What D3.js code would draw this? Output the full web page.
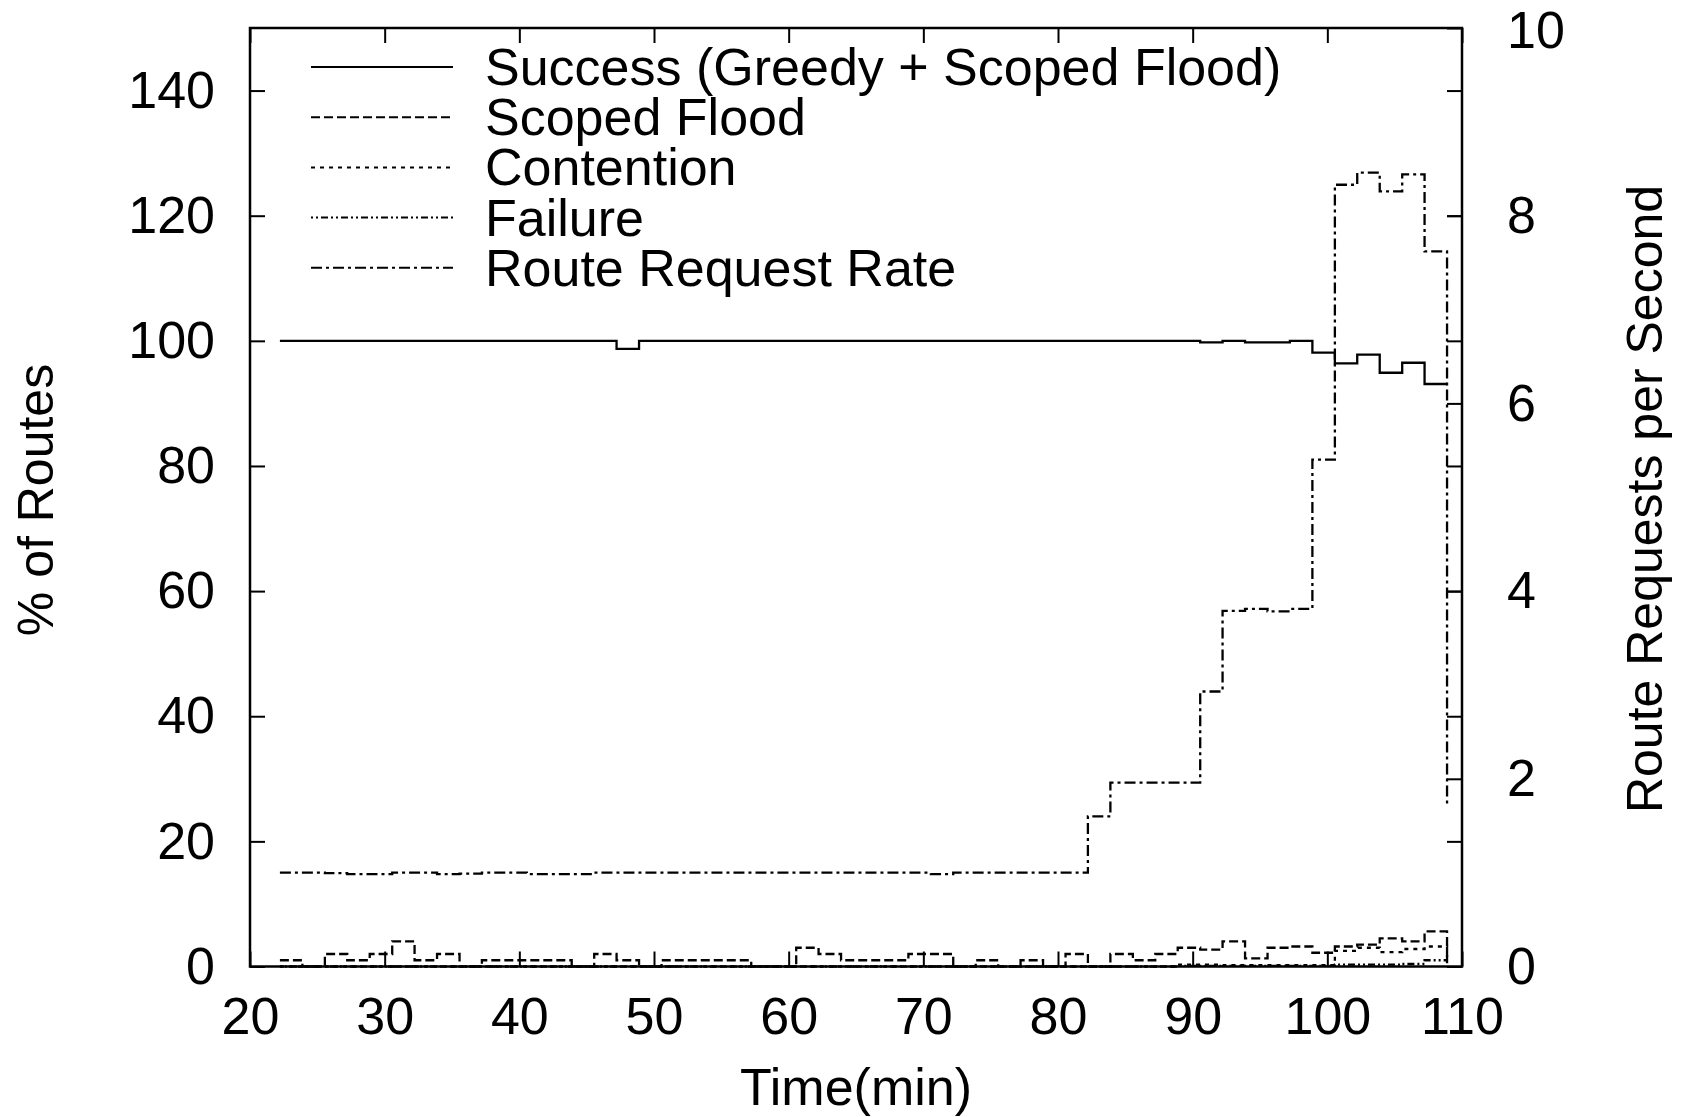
<!DOCTYPE html>
<html><head><meta charset="utf-8">
<script src="https://cdn.jsdelivr.net/npm/d3@7"></script>
<style>
body{margin:0;background:#fff}
svg{display:block}
text{font-family:"Liberation Sans",Arial,Helvetica,sans-serif;fill:#000}
</style>
</head><body><svg id="c" width="1688" height="1117"></svg>
<script>
// bin start times (min)
const times = [22.22,23.89,25.56,27.22,28.89,30.56,32.22,33.89,35.56,37.22,38.89,40.56,42.22,43.89,45.56,47.22,48.89,50.56,52.22,53.89,55.56,57.22,58.89,60.56,62.22,63.89,65.56,67.22,68.89,70.56,72.22,73.89,75.56,77.22,78.89,80.56,82.22,83.89,85.56,87.22,88.89,90.56,92.22,93.89,95.56,97.22,98.89,100.56,102.22,103.89,105.56,107.22,108.89];
// % of routes
const success = [100,100,100,100,100,100,100,100,100,100,100,100,100,100,100,98.7,100,100,100,100,100,100,100,100,100,100,100,100,100,100,100,100,100,100,100,100,100,100,100,100,100,99.75,100,99.75,99.75,100,98.1,96.4,97.8,94.9,96.5,93.1,93.1];
const scopedFlood = [1,0,2,1,2,4,1,2,0,1,1,1,1,0,2,1,0,1,1,1,1,0,0,3,2,1,1,1,2,2,0,1,0,1,0,2,0,2,1,2,3,2.7,4,1.3,3,3.2,2.2,3.2,3.5,4.5,4,5.6,1];
const contention = [0,0,0,0,0,0,0,0,0,0,0,0,0,0,0,0,0,0,0,0,0,0,0,0,0,0,0,0,0,0,0,0,0,0,0,0,0,0,0,0,0.3,0.3,0.2,0.2,0.2,0.2,0.2,2.5,3,2.3,2.8,3.2,1.5];
const failure = [0,0,0,0,0,0,0,0,0,0,0,0,0,0,0,0,0,0,0,0,0,0,0,0,0,0,0,0,0,0,0,0,0,0,0,0,0,0,0,0,0.1,0.1,0.1,0.1,0.1,0.1,0.1,0.3,0.3,0.3,0.4,1.0,0.5];
// route requests per second (right axis)
const requestRate = [1.0,1.0,0.995,0.985,0.985,1.0,1.0,0.985,0.99,1.0,1.0,0.985,0.985,0.985,1.0,1.0,1.0,1.0,1.0,1.0,1.0,1.0,1.0,1.0,1.0,1.0,1.0,1.0,1.0,0.985,1.0,1.0,1.0,1.0,1.0,1.0,1.6,1.96,1.96,1.96,1.96,2.93,3.79,3.81,3.785,3.81,5.40,8.33,8.46,8.26,8.44,7.62,1.70];

const xTicks = [20,30,40,50,60,70,80,90,100,110];
const yTicks = [0,20,40,60,80,100,120,140];
const y2Ticks = [0,2,4,6,8,10];
const legendLabels = ["Success (Greedy + Scoped Flood)","Scoped Flood","Contention","Failure","Route Request Rate"];

const L=250, R=1462, T=28, B=966.5;
const svg = d3.select("#c");
const x = d3.scaleLinear().domain([20,110]).range([L,R]);
const y = d3.scaleLinear().domain([0,150]).range([B,T]);
const y2 = d3.scaleLinear().domain([0,10]).range([B,T]);

const FS = 52;
function styleAxis(g){
  g.select(".domain").remove();
  g.selectAll(".tick line").attr("stroke","#000").attr("stroke-width",2);
  g.selectAll(".tick text").attr("font-size",FS).attr("font-family",'"Liberation Sans",Arial,sans-serif').attr("fill","#000");
}
svg.append("g").attr("transform",`translate(${L},0)`)
  .call(d3.axisLeft(y).tickValues(yTicks).tickSize(-15).tickSizeOuter(0).tickPadding(35)).call(styleAxis);
svg.append("g").attr("transform",`translate(${R},0)`)
  .call(d3.axisRight(y).tickValues(yTicks).tickSize(-15).tickSizeOuter(0).tickFormat("")).call(styleAxis);
const gy2 = svg.append("g").attr("transform",`translate(${R},0)`)
  .call(d3.axisRight(y2).tickValues(y2Ticks).tickSize(-15).tickSizeOuter(0).tickPadding(45)).call(styleAxis);
// keep the top label inside the picture
gy2.selectAll(".tick text").filter(d=>d===10).attr("dy","0.38em");
svg.append("g").attr("transform",`translate(0,${B})`)
  .call(d3.axisBottom(x).tickValues(xTicks).tickSize(-15).tickSizeOuter(0).tickPadding(31)).call(styleAxis);
svg.append("g").attr("transform",`translate(0,${T})`)
  .call(d3.axisTop(x).tickValues(xTicks).tickSize(-15).tickSizeOuter(0).tickFormat("")).call(styleAxis);

// frame
svg.append("rect").attr("x",L).attr("y",T).attr("width",R-L).attr("height",B-T)
  .attr("fill","none").attr("stroke","#000").attr("stroke-width",2.5);

const dashes = ["", "9,4", "4,5", "2,3,2,3,7,3", "11,4,3,4"];
const series = [
  {vals:success, sc:y},
  {vals:scopedFlood, sc:y},
  {vals:contention, sc:y},
  {vals:failure, sc:y},
  {vals:requestRate, sc:y2}
];
series.forEach((s,i)=>{
  const line = d3.line().curve(d3.curveStepAfter).x((d,j)=>x(times[j])).y(d=>s.sc(d));
  svg.append("path").datum(s.vals).attr("d",line)
    .attr("fill","none").attr("stroke","#000").attr("stroke-width",2.3)
    .attr("stroke-dasharray",dashes[i]||null);
});

// legend
const lg = svg.append("g");
legendLabels.forEach((lab,i)=>{
  const ly = 67 + i*50.2;
  lg.append("line").attr("x1",311).attr("x2",453).attr("y1",ly).attr("y2",ly)
    .attr("stroke","#000").attr("stroke-width",2).attr("stroke-dasharray",dashes[i]||null);
  lg.append("text").attr("x",485).attr("y",ly+18).attr("font-size",FS).text(lab);
});

// axis titles
svg.append("text").attr("x",(L+R)/2).attr("y",1105).attr("text-anchor","middle").attr("font-size",FS).text("Time(min)");
svg.append("text").attr("transform","translate(53,500) rotate(-90)").attr("text-anchor","middle").attr("font-size",50).text("% of Routes");
svg.append("text").attr("transform","translate(1662,499) rotate(-90)").attr("text-anchor","middle").attr("font-size",50).text("Route Requests per Second");
</script>
</body></html>
